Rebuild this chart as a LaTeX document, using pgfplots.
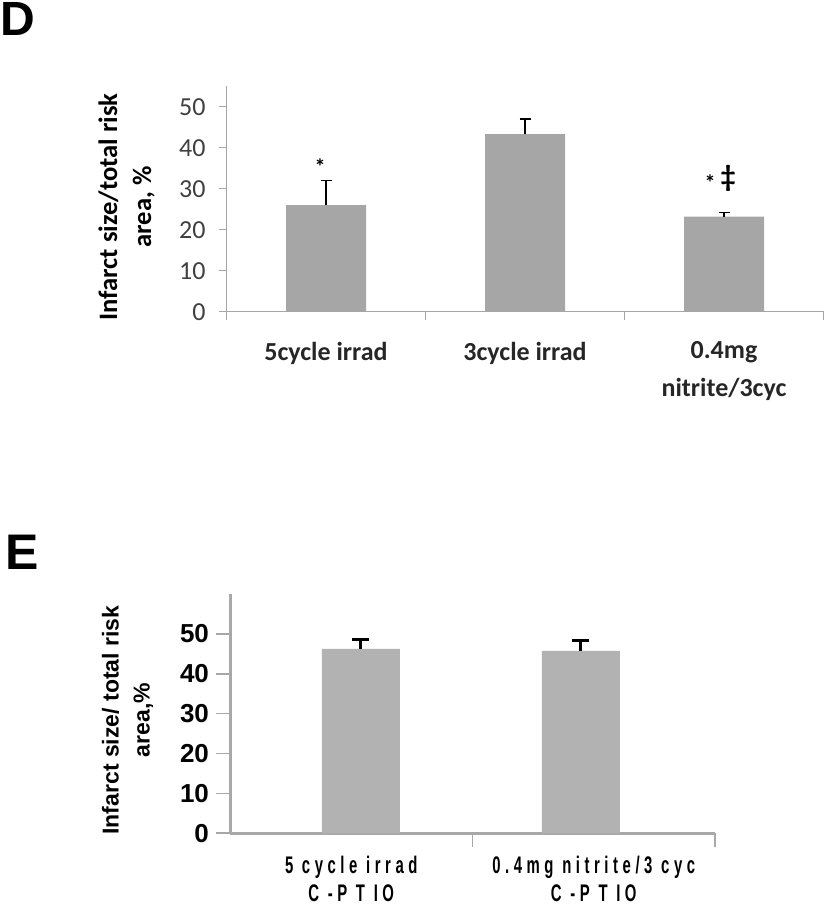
\documentclass[border=0pt]{standalone}
\usepackage{fontspec}
\setmainfont{Carlito}
\newfontfamily\arial{Liberation Sans}
\newfontfamily\arialnarrow{Liberation Sans}[FakeStretch=0.62,LetterSpace=19]
\usepackage{pgfplots}
\pgfplotsset{compat=1.18}
\definecolor{barD}{HTML}{A6A6A6}
\definecolor{barE}{HTML}{B2B2B2}
\definecolor{axD}{HTML}{A6A6A6}
\definecolor{axE}{HTML}{A8A8A8}
\definecolor{tickD}{HTML}{404040}
\begin{document}
\begin{tikzpicture}
\path[use as bounding box] (0,0) rectangle (412.5pt,453pt);
\node[anchor=north west, inner sep=0pt, font=\arial\bfseries\fontsize{24}{24}\selectfont] at (0pt,452pt) {D};
\node[anchor=north west, inner sep=0pt, font=\arial\bfseries\fontsize{25}{25}\selectfont] at (2.5pt,185.5pt) {E};

% Panel D
\begin{axis}[
  at={(113.25pt,297.15pt)}, anchor=south west,
  scale only axis, width=298.5pt, height=112.75pt,
  xmin=-0.5, xmax=2.5, ymin=0, ymax=55, clip=false,
  axis x line=bottom, axis y line=left,
  axis line style={draw=axD, line width=0.6pt, -},
  ytick={0,10,...,50},
  xtick={0,1,2},
  xticklabels={5cycle irrad, 3cycle irrad, {0.4mg\\nitrite/3cyc}},
  minor xtick={-0.5,0.5,1.5,2.5},
  tick align=outside, major tick length=4pt, minor tick length=4pt,
  major x tick style={draw=none},
  tick style={draw=axD, line width=0.6pt},
  /pgf/number format/assume math mode=true,
  yticklabel style={font=\fontsize{13}{13}\selectfont, text=tickD, xshift=-3pt},
  xticklabel style={font=\bfseries\fontsize{13}{19}\selectfont, align=center, text=black!85, yshift=-7.5pt},
  ylabel={Infarct size/total risk\\area, \%},
  ylabel style={font=\bfseries\fontsize{13.3}{17}\selectfont, align=center, at={(axis description cs:-0.1675,0.464)}, anchor=center},
]
\addplot[ybar, bar width=40pt, fill=barD, draw=none,
  error bars/.cd, y dir=plus, y explicit,
  error bar style={black, line width=0.7pt},
  error mark options={rotate=90, mark size=2.75pt, line width=0.7pt, black}]
  coordinates {(0,26) +- (0,6) (1,43.3) +- (0,3.7) (2,23.2) +- (0,1.0)};
\node[font=\bfseries\fontsize{11}{11}\selectfont] at (axis cs:-0.03,35.5) {*};
\node[font=\bfseries\fontsize{11}{11}\selectfont] at (axis cs:1.93,31.4) {*};
\node[font=\bfseries\fontsize{15}{15}\selectfont] at (axis cs:2.02,32.4) {‡};
\end{axis}

% Panel E
\begin{axis}[
  at={(115pt,36.35pt)}, anchor=south west,
  scale only axis, width=242.5pt, height=119.7pt,
  xmin=0, xmax=2, ymin=0, ymax=60, clip=false,
  axis x line=bottom, axis y line=left,
  axis line style={draw=axE, line width=1.5pt, -},
  ytick={0,10,...,50},
  xtick={0.5,1.5},
  xticklabels={{5 cycle irrad\\C -P T IO}, {0.4mg nitrite/3 cyc\\C -P T IO}},
  minor xtick={1,2},
  tick align=outside, major tick length=7pt, minor tick length=7pt,
  major x tick style={draw=none},
  tick style={draw=axE, line width=0.8pt},
  /pgf/number format/assume math mode=true,
  yticklabel style={font=\arial\bfseries\fontsize{13}{13}\selectfont, text=black},
  xticklabel style={font=\arialnarrow\bfseries\fontsize{12}{14}\selectfont, align=center, text=black, yshift=-1pt},
  ylabel={Infarct size/ total risk\\area,\%},
  ylabel style={font=\arial\bfseries\fontsize{11.5}{15.5}\selectfont, align=center, at={(axis description cs:-0.211,0.473)}, anchor=center},
]
\addplot[ybar, bar width=39pt, fill=barE, draw=none,
  error bars/.cd, y dir=plus, y explicit,
  error bar style={black, line width=1.5pt},
  error mark options={rotate=90, mark size=4.25pt, line width=1.5pt, black}]
  coordinates {(0.54,46.2) +- (0,2.4) (1.447,45.7) +- (0,2.7)};
\end{axis}
\end{tikzpicture}
\end{document}
